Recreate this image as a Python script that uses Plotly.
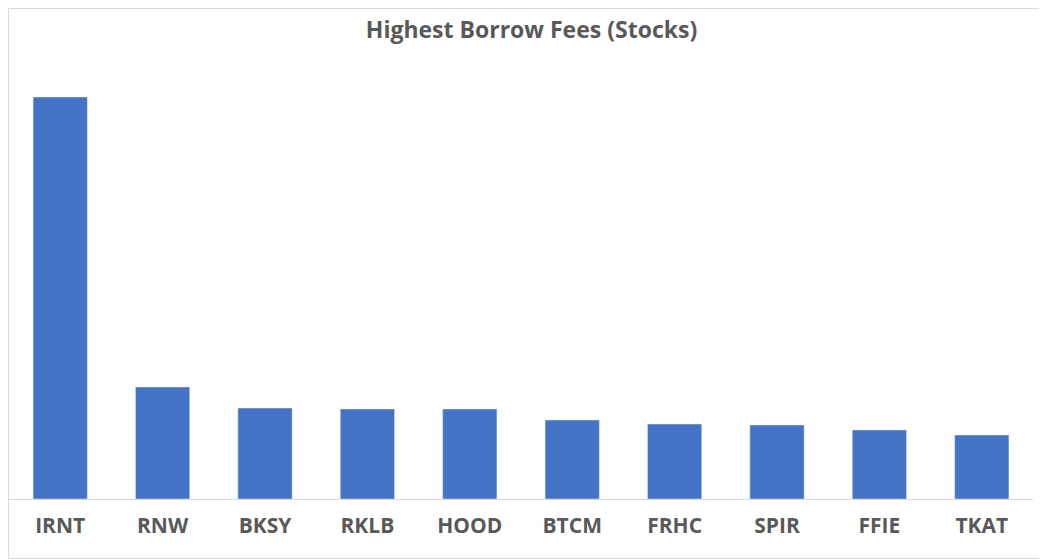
import plotly.graph_objects as go

tickers = ["IRNT", "RNW", "BKSY", "RKLB", "HOOD", "BTCM", "FRHC", "SPIR", "FFIE", "TKAT"]
fees = [402, 112, 91, 90, 90, 79, 75, 74, 69, 64]

fig = go.Figure(go.Bar(x=tickers, y=fees, marker_color="#4472C4"))

fig.update_layout(
    width=1047, height=560,
    margin=dict(l=1, r=22, t=52, b=69),
    title=dict(text="<b>Highest Borrow Fees (Stocks)</b>", x=0.5, xanchor="center",
               y=1 - 22/560, yanchor="middle",
               font=dict(family="Open Sans", size=23, color="#595959")),
    plot_bgcolor="white", paper_bgcolor="white",
    bargap=0.47,
    showlegend=False,
    xaxis=dict(showline=True, linecolor="#D9D9D9", linewidth=1,
               tickfont=dict(family="Open Sans", size=21, color="#595959"),
               ticks="", ticklabelstandoff=8),
    yaxis=dict(visible=False, range=[0, 439], showgrid=False),
    shapes=[dict(type="rect", xref="paper", yref="paper",
                 x0=-0.5/1024, x1=1037.5/1024, y0=-59.5/439, y1=1 + 51.5/439,
                 line=dict(color="#D9D9D9", width=1))],
)
fig.update_xaxes(tickprefix="<b>", ticksuffix="</b>")

fig.write_html("out.html")
